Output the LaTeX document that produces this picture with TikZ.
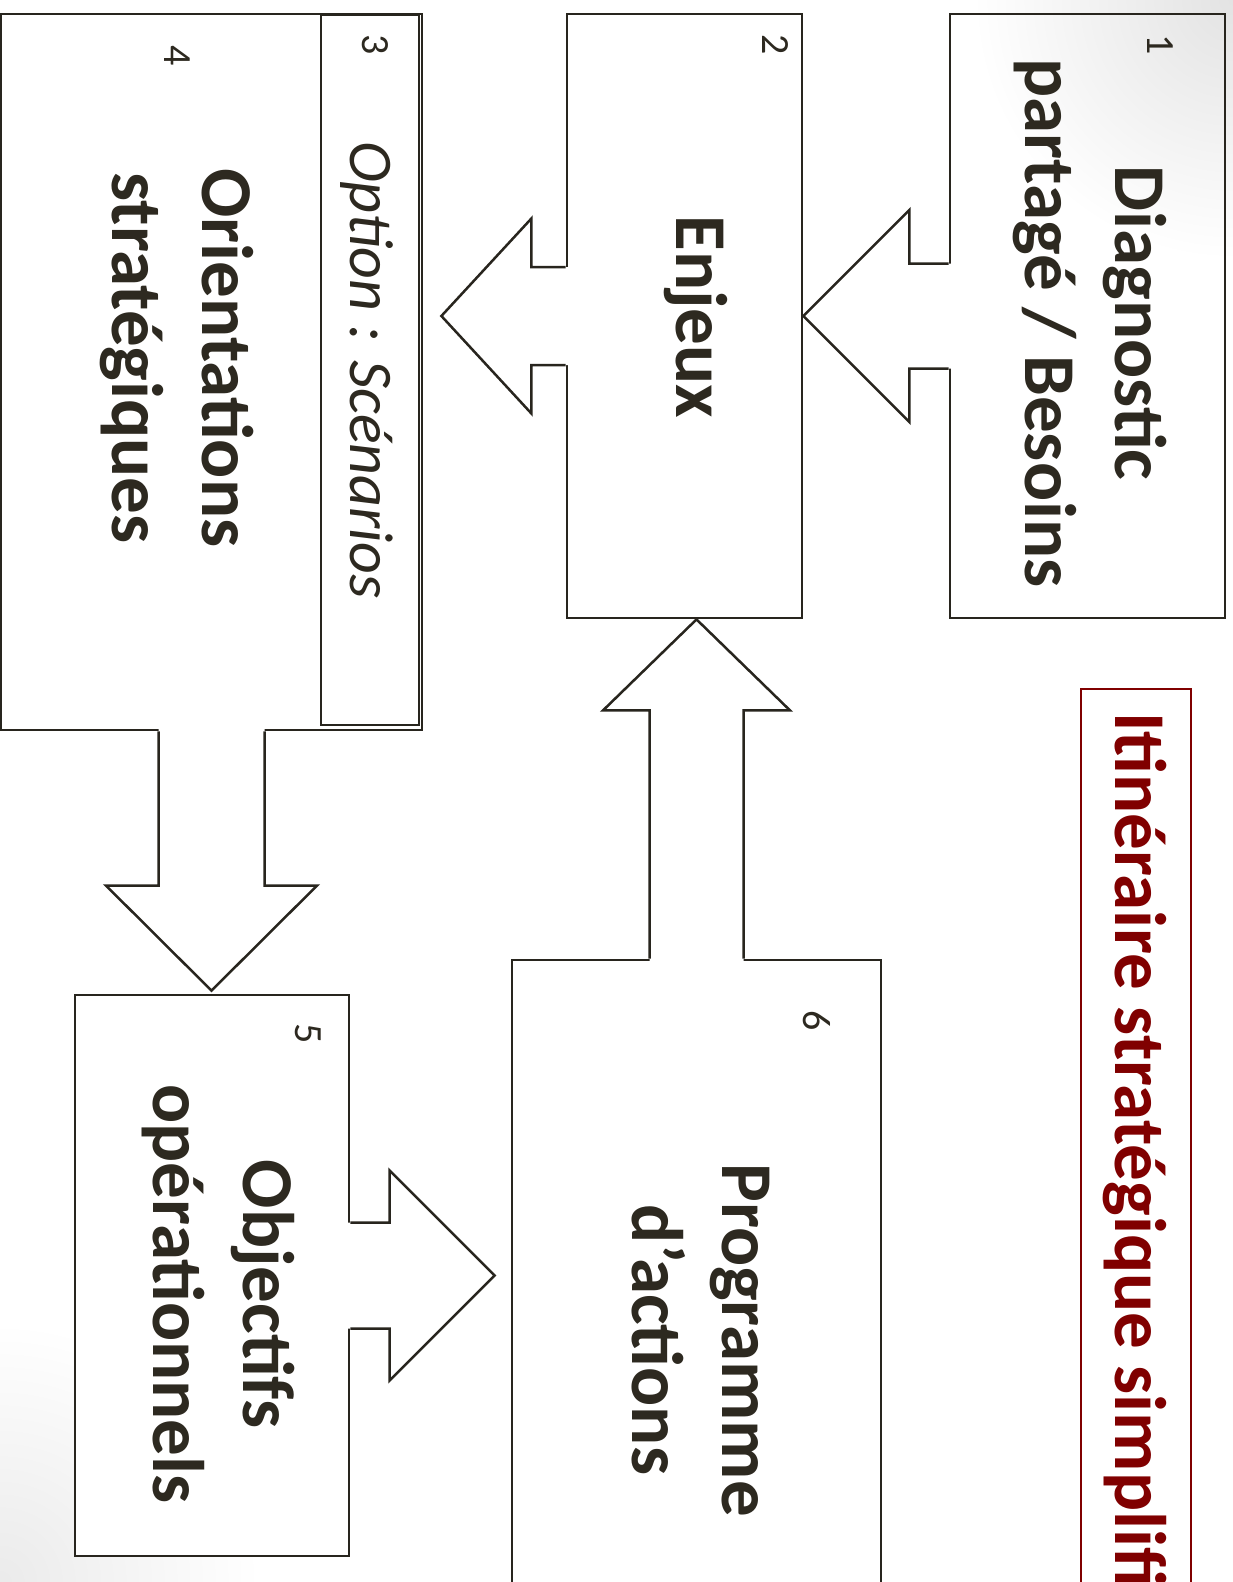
\documentclass[tikz,border=0pt]{standalone}
\usepackage{fontspec}
\setmainfont{Carlito}
\usetikzlibrary{calc}
\definecolor{ink}{RGB}{45,41,32}
\definecolor{edgecol}{RGB}{40,37,30}
\definecolor{titlered}{RGB}{128,0,0}
\newcommand{\blockarrow}[5]{%
  \coordinate (baS) at #1;
  \coordinate (baT) at #2;
  \coordinate (baH) at ($(baT)!#5!(baS)$);
  \coordinate (baB) at ($(baS)!4pt!180:(baT)$);
  \fill[white] ($(baB)!#3!90:(baT)$) -- ($(baH)!#3!-90:(baS)$) -- ($(baH)!#4!-90:(baS)$) -- (baT)
     -- ($(baH)!#4!90:(baS)$) -- ($(baH)!#3!90:(baS)$) -- ($(baB)!#3!-90:(baT)$) -- cycle;
  \draw[arrowline] ($(baS)!#3!90:(baT)$) -- ($(baH)!#3!-90:(baS)$) -- ($(baH)!#4!-90:(baS)$) -- (baT)
     -- ($(baH)!#4!90:(baS)$) -- ($(baH)!#3!90:(baS)$) -- ($(baS)!#3!-90:(baT)$);
}
\begin{document}
\begin{tikzpicture}[x=1pt,y=-1pt,
  box/.style={draw=edgecol, line width=2.8pt, inner sep=0pt},
  arrowline/.style={draw=edgecol, line width=2.5pt, line join=miter},
  lbl/.style={font=\fontsize{73}{90}\selectfont\bfseries, text=ink, inner sep=0pt, rotate=-90, align=center},
  numlbl/.style={font=\fontsize{40}{48}\selectfont, text=ink, inner sep=0pt, rotate=-90},
  titlebox/.style={draw=titlered, line width=2pt, fill=white, inner sep=0pt}]
\useasboundingbox (0,0) rectangle (1233,1582);
\clip (0,0) rectangle (1233,1582);
\fill[white] (0,0) rectangle (1233,1582);
\shade[inner color=black!11, outer color=white] (1233,0) circle (260);
\shade[inner color=black!8, outer color=white] (0,1582) circle (260);
% boxes
\node[box, minimum width=275pt, minimum height=604pt] (b1) at (1087.5,316) {};
\node[box, fill=white, minimum width=235pt, minimum height=604pt] (b2) at (684.5,316) {};
\node[box, fill=white, minimum width=421pt, minimum height=716pt] (b4) at (211.5,372) {};
\node[box, minimum width=98pt, minimum height=710pt, line width=2.2pt] (b3) at (370,370) {};
\node[box, fill=white, minimum width=274pt, minimum height=561pt] (b5) at (212,1275.5) {};
\node[box, fill=white, minimum width=369pt, minimum height=660pt] (b6) at (696.5,1290) {};
\node[titlebox, minimum width=110pt, minimum height=931pt] (tb) at (1136,1154.5) {};
% arrows
\blockarrow{(b1.west)}{(b2.east)}{52.5pt}{106pt}{106pt}
\blockarrow{(b2.west)}{($(b4.east |- b2.west)+(18,0)$)}{49pt}{97.5pt}{90pt}
\blockarrow{(b4.south)}{($(b4.south |- b5.north)+(0,-3)$)}{53pt}{105.5pt}{105pt}
\blockarrow{(b5.east)}{($(b6.west |- b5.east)+(-16,0)$)}{53pt}{105pt}{105pt}
\blockarrow{(b6.north)}{(b6.north |- b2.south)}{47pt}{93.5pt}{91pt}
% labels
\node[lbl] (t1) at (1090,323) {Diagnostic\\partagé / Besoins};
\node[lbl] (t2) at (696,317) {Enjeux};
\node[lbl] (t4) at (177,358) {Orientations\\stratégiques};
\node[lbl, font=\fontsize{62}{74}\selectfont\itshape] (t3) at (367,370) {Option : Scénarios};
\node[lbl] (t5) at (218,1294) {Objectifs\\opérationnels};
\node[lbl] (t6) at (701,1340) {Programme\\d’actions};
\node[lbl, text=titlered, anchor=west] (tt) at (1135,712) {Itinéraire stratégique simplifié};
% numbers
\node[numlbl] (n1) at (1160,45) {1};
\node[numlbl] (n2) at (775,45) {2};
\node[numlbl] (n3) at (375,45) {3};
\node[numlbl] (n4) at (177,56) {4};
\node[numlbl] (n5) at (308,1034) {5};
\node[numlbl] (n6) at (817,1021) {6};
\end{tikzpicture}
\end{document}
